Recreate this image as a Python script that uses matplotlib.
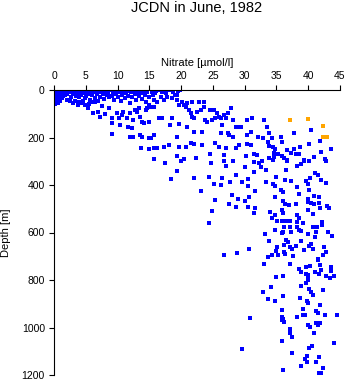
import numpy as np
import matplotlib
matplotlib.use("Agg")
import matplotlib.pyplot as plt

plt.rcParams['font.family'] = ['Liberation Sans', 'DejaVu Sans']

# (nitrate [umol/l], depth [m])
surface_pts = [
    (0.1, 2), (0.2, 10), (0.3, 18), (0.2, 25), (0.4, 33), (0.3, 42), (0.5, 5), (0.6, 14),
    (0.7, 22), (0.5, 30), (0.8, 38), (0.9, 3), (1.0, 12), (1.1, 20), (0.9, 28), (1.2, 8),
    (1.3, 16), (1.4, 25), (1.5, 4), (1.6, 12), (1.2, 35), (1.8, 20), (1.9, 6), (2.0, 15),
    (0.4, 48), (0.7, 55), (0.2, 60), (1.0, 45),
    (2.3, 2), (2.5, 10), (2.8, 4), (3.0, 18), (3.2, 8), (3.4, 25), (3.5, 2), (3.7, 14),
    (3.9, 30), (4.1, 6), (4.3, 20), (4.5, 2), (4.7, 12), (4.8, 35), (5.0, 26), (5.2, 5),
    (5.4, 16), (5.6, 42), (5.8, 3), (6.0, 22), (6.2, 10), (6.4, 33), (6.6, 4), (6.8, 18),
    (7.0, 45), (7.1, 8), (7.3, 28), (7.5, 2), (7.7, 15), (7.9, 38), (2.1, 40), (2.6, 30),
    (3.3, 45), (4.0, 52), (3.0, 56), (3.8, 63), (4.5, 45), (5.5, 60), (6.5, 52), (7.5, 66),
    (2.5, 48),
    (8.1, 5), (8.3, 20), (8.5, 12), (8.7, 30), (8.9, 2), (9.1, 25), (9.3, 8), (9.5, 40),
    (9.7, 16), (9.9, 3), (10.1, 28), (10.3, 10), (10.5, 48), (10.7, 20), (10.9, 4),
    (11.1, 35), (11.3, 14), (11.5, 6), (11.7, 25), (11.9, 55), (12.1, 10), (12.3, 30),
    (12.5, 2), (12.7, 18), (12.9, 42), (13.1, 8), (13.3, 24), (13.5, 3), (13.7, 14),
    (13.9, 36), (14.1, 6), (14.3, 20), (14.5, 50), (14.7, 10), (14.9, 28),
    (15.5, 20), (16.0, 3), (16.8, 30), (17.6, 12), (18.5, 35), (18.8, 8), (19.3, 20), (19.5, 5),
]

upper_pts = [
    (4.37, 56), (4.9, 63), (5.4, 77), (5.9, 49), (6.2, 98), (7.0, 91), (7.3, 112), (8.1, 102),
    (8.6, 77), (9.1, 119), (9.1, 140), (9.9, 98), (10.2, 119), (10.4, 147), (10.7, 105),
    (10.9, 91), (11.5, 119), (11.7, 154), (12.0, 98), (12.3, 161), (12.5, 126), (12.8, 84),
    (13.1, 91), (13.3, 77), (13.6, 112), (13.8, 133), (14.1, 140), (14.4, 84), (14.6, 77),
    (14.9, 133), (14.9, 63), (9.2, 186), (12.0, 196), (12.5, 196), (13.6, 189), (13.8, 196),
    (15.0, 200), (13.7, 245), (14.9, 248),
    (15.4, 7), (15.9, 14), (16.5, 0), (17.0, 7), (17.5, 4), (15.7, 42), (16.2, 49), (17.3, 42),
    (17.8, 28), (15.2, 70), (15.7, 70), (18.1, 0), (19.1, 21), (19.4, 42), (19.6, 63),
    (19.9, 0), (20.2, 49), (20.4, 63), (20.7, 70), (20.9, 56), (21.2, 84), (21.5, 98),
    (21.7, 112), (21.7, 49), (22.0, 119), (22.5, 91), (22.8, 49), (23.1, 84), (23.6, 49),
    (23.6, 70), (23.8, 126), (24.1, 133), (24.6, 84), (24.9, 126), (25.2, 84), (25.4, 119),
    (25.7, 98), (25.9, 112), (26.2, 119), (26.5, 147), (26.7, 105), (27.0, 119), (27.3, 98),
    (27.8, 77), (28.1, 126), (28.6, 154), (29.1, 154), (29.4, 154), (30.4, 126), (30.4, 189),
    (16.5, 119), (17.0, 119), (18.6, 119), (18.3, 147), (19.6, 144), (20.9, 154), (22.0, 175),
    (23.3, 175), (26.2, 182), (27.3, 182), (27.5, 189), (28.1, 196), (15.7, 189), (15.2, 203),
    (18.1, 231), (19.4, 196), (19.6, 238), (21.5, 224), (22.0, 229), (23.3, 231), (25.4, 224),
    (25.9, 238), (27.0, 245), (28.6, 245), (29.1, 231), (30.4, 229), (15.7, 245), (16.2, 243),
    (17.3, 238), (20.7, 238), (24.6, 271), (26.7, 273), (30.2, 276), (19.4, 276), (20.4, 290),
    (22.3, 287), (15.7, 290),
    (31.2, 119), (33.1, 128), (33.5, 157), (32.1, 199), (32.9, 200), (33.8, 182), (34.3, 203),
    (33.7, 220), (33.9, 234), (34.4, 238), (34.8, 250), (35.7, 199), (35.8, 220), (37.8, 181),
    (38.7, 241), (40.2, 227), (40.4, 170), (41.9, 215), (42.0, 259), (43.6, 248), (31.0, 175),
    (31.0, 231), (31.5, 271), (32.0, 273), (34.6, 266), (35.2, 269), (35.9, 276), (36.2, 285),
    (36.7, 252), (36.7, 294), (37.3, 266), (37.8, 250), (38.0, 271), (38.6, 269), (39.4, 294),
    (40.9, 280), (42.6, 290), (33.8, 285), (34.6, 283),
]

middle_pts = [
    (17.4, 308), (20.0, 301), (24.7, 306), (26.7, 301), (28.2, 297), (27.1, 320), (30.1, 323),
    (19.3, 339), (18.4, 376), (22.0, 369), (24.4, 367), (25.2, 395), (26.3, 400), (26.4, 369),
    (27.7, 388), (28.6, 359), (29.6, 388), (30.5, 376), (30.5, 404), (23.1, 425), (28.0, 442),
    (29.0, 459), (30.1, 468), (30.7, 449), (25.3, 464), (27.6, 481), (28.6, 491), (30.5, 494),
    (24.8, 510), (24.4, 558), (26.8, 693), (28.8, 687), (30.7, 670),
    (31.5, 303), (32.2, 306), (32.8, 299), (32.5, 325), (33.4, 337), (31.4, 344), (34.5, 295),
    (36.5, 337), (36.7, 299), (38.2, 320), (38.8, 311), (39.4, 301), (40.2, 299), (42.8, 299),
    (35.0, 367), (33.3, 386), (34.5, 396), (34.7, 404), (36.4, 381), (37.3, 384), (38.2, 407),
    (39.6, 383), (39.9, 395), (40.3, 372), (41.1, 351), (41.5, 358), (42.0, 379), (42.8, 393),
    (31.6, 426), (35.7, 421), (36.1, 429), (38.5, 439), (40.2, 423), (40.9, 446), (41.7, 449),
    (34.8, 452), (36.1, 466), (36.4, 480), (37.0, 485), (38.1, 480), (39.9, 460), (40.0, 471),
    (40.4, 474), (40.9, 480), (41.7, 477), (41.8, 498), (43.0, 488), (43.2, 498), (31.6, 498),
    (31.5, 519), (34.0, 512), (34.8, 526), (34.3, 540), (35.8, 505), (36.1, 516), (38.2, 526),
    (38.6, 541), (39.9, 505), (40.7, 523), (35.1, 550), (35.8, 550), (36.5, 550), (37.2, 550),
    (38.3, 554), (39.2, 561), (40.7, 575), (41.4, 575), (42.1, 557), (42.1, 568), (36.2, 575),
    (37.2, 575), (38.3, 575), (38.6, 589), (38.9, 592), (34.8, 589), (35.8, 600), (36.1, 596),
    (37.3, 596), (39.9, 606), (41.2, 596), (43.1, 599), (43.8, 614), (33.2, 606), (33.8, 635),
    (36.5, 631), (36.8, 642), (38.8, 637), (41.1, 620), (35.1, 659), (36.2, 652), (37.2, 659),
    (38.1, 656), (40.2, 656), (40.5, 649), (42.5, 662), (34.9, 676), (36.2, 684), (37.4, 670),
    (39.4, 673), (40.8, 670), (42.8, 681), (33.6, 702), (34.3, 694), (35.2, 693), (36.4, 690),
    (37.6, 701), (41.5, 710), (42.4, 695),
]

deep_pts = [
    (33.0, 733), (37.2, 732), (41.5, 715), (41.8, 736), (43.6, 746), (38.6, 754), (38.9, 768),
    (39.7, 746), (40.3, 740), (41.1, 767), (41.7, 775), (42.0, 757), (42.8, 782), (43.5, 792),
    (44.1, 785), (43.6, 764), (39.7, 774), (40.0, 778), (39.9, 796), (39.9, 802), (39.7, 813),
    (34.9, 788), (36.0, 785), (34.1, 830), (38.8, 827), (40.2, 838), (40.4, 850), (40.7, 865),
    (42.4, 844), (32.9, 850), (36.1, 866), (33.7, 880), (34.8, 887), (38.7, 876), (39.8, 889),
    (40.0, 897), (41.8, 904), (35.9, 928), (39.2, 922), (41.3, 932), (41.6, 939), (30.9, 960),
    (35.8, 956), (36.0, 963), (38.3, 956), (39.1, 948), (39.5, 948), (42.7, 948), (44.6, 948),
    (35.9, 968), (36.2, 975), (40.0, 989), (40.3, 998), (41.3, 982), (41.8, 979), (41.6, 991),
    (37.2, 1007), (37.2, 1024), (37.5, 1038), (40.9, 1024), (35.8, 1055), (29.6, 1091),
    (40.2, 1087), (40.6, 1077), (44.1, 1066), (37.5, 1108), (39.8, 1119), (39.5, 1133),
    (39.8, 1147), (41.7, 1125), (41.3, 1146), (38.9, 1161), (42.3, 1171), (36.0, 1178),
    (41.7, 1192), (42.0, 1192),
]

orange_pts = [(37.1, 127), (39.9, 123), (42.4, 150), (42.3, 199), (43.0, 199)]

blue = np.array(surface_pts + upper_pts + middle_pts + deep_pts)
orange = np.array(orange_pts)

fig = plt.figure(figsize=(3.48, 3.84), dpi=100)
ax = fig.add_axes([54/348, 1 - 375/384, 286/348, 285/384])

ax.plot(blue[:, 0], blue[:, 1], 's', color='#0000ff', markersize=2.2, markeredgewidth=0)
ax.plot(orange[:, 0], orange[:, 1], 's', color='#ffa500', markersize=2.2, markeredgewidth=0)

ax.set_xlim(0, 45)
ax.set_ylim(1200, 0)
ax.set_xticks(np.arange(0, 46, 5))
ax.set_yticks(np.arange(0, 1201, 200))
ax.xaxis.tick_top()
ax.xaxis.set_label_position('top')
ax.spines['bottom'].set_visible(False)
ax.spines['right'].set_visible(False)
for s in ('top', 'left'):
    ax.spines[s].set_linewidth(0.8)
ax.tick_params(length=3.6, width=0.8, labelsize=7.5, pad=3)

ax.set_xlabel('Nitrate [µmol/l]', fontsize=8)
ax.xaxis.set_label_coords(0.5, 1.085)
ax.set_ylabel('Depth [m]', fontsize=8)
ax.yaxis.set_label_coords(-0.15, 0.5)

fig.text(197/348, 1 - 8/384, 'JCDN in June, 1982', ha='center', va='center', fontsize=10.5)

fig.savefig('out.png', dpi=100)
